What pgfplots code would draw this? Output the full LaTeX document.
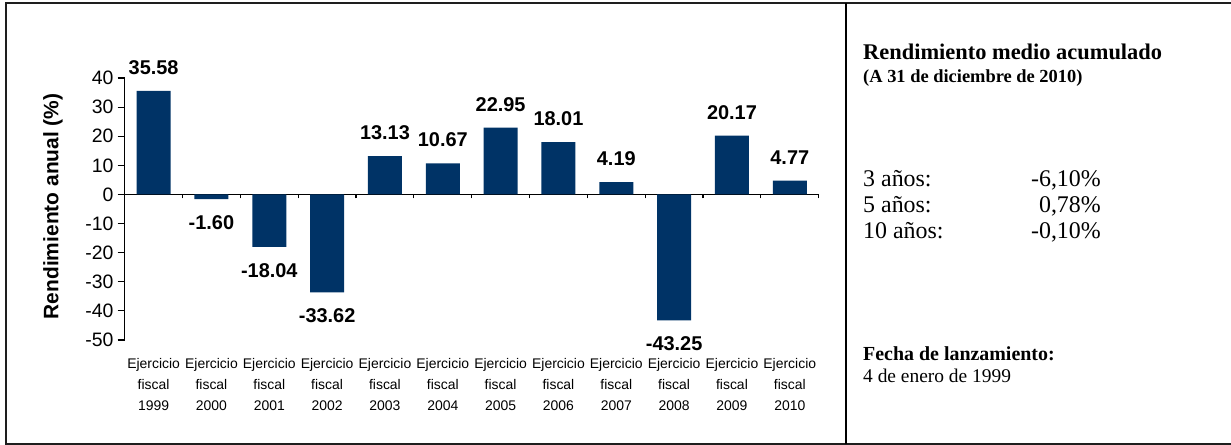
\documentclass[border=0pt]{standalone}
\usepackage{pgfplots}
\pgfplotsset{compat=1.18}
\usepackage{fontspec}
\setmainfont{Liberation Sans}
\newfontfamily\serif{Liberation Serif}
\definecolor{navy}{RGB}{0,51,102}
\definecolor{frame}{RGB}{30,30,30}

\pgfplotstableread{
x y
0 35.58
1 -1.60
2 -18.04
3 -33.62
4 13.13
5 10.67
6 22.95
7 18.01
8 4.19
9 -43.25
10 20.17
11 4.77
}\rend

\begin{document}
\begin{tikzpicture}[x=1bp,y=1bp]
\useasboundingbox (0,0) rectangle (1231,445);
\draw[line width=2bp, frame] (1231,442) -- (6,442) -- (6,1) -- (1231,1);
\draw[line width=2.2bp, black] (845.7,1) -- (845.7,442);

\begin{axis}[
  at={(124.7bp,105bp)}, anchor=south west,
  scale only axis, width=694bp, height=262bp,
  xmin=-0.5, xmax=11.5, ymin=-50, ymax=40,
  axis y line=left, axis x line=middle,
  axis line style={-, line width=1.3bp, black},
  ytick={-50,-40,...,40},
  ytick align=outside,
  major tick length=7bp,
  ytick style={line width=1.1bp, black},
  /pgf/number format/assume math mode=true,
  yticklabel style={font=\fontsize{19.5}{21}\selectfont, inner xsep=4bp},
  xtick={0,...,11},
  xtick style={draw=none},
  xticklabels={{Ejercicio\\fiscal\\1999},{Ejercicio\\fiscal\\2000},{Ejercicio\\fiscal\\2001},{Ejercicio\\fiscal\\2002},{Ejercicio\\fiscal\\2003},{Ejercicio\\fiscal\\2004},{Ejercicio\\fiscal\\2005},{Ejercicio\\fiscal\\2006},{Ejercicio\\fiscal\\2007},{Ejercicio\\fiscal\\2008},{Ejercicio\\fiscal\\2009},{Ejercicio\\fiscal\\2010}},
  xticklabel style={font=\fontsize{14}{21}\selectfont, align=center, anchor=north, yshift=-157bp},
  extra x ticks={-0.5,0.5,...,11.5},
  extra x tick labels={},
  extra x tick style={xtick style={draw=black, line width=1.1bp}, major tick length=4bp, xtick align=outside},
  ylabel={Rendimiento anual (\%)},
  ylabel style={font=\bfseries\fontsize{21}{23}\selectfont, at={(axis description cs:-0.1033,0.51)}, anchor=center},
  clip=false,
]
\addplot[ybar, bar width=34bp, fill=navy, draw=none,
  nodes near coords={\pgfmathprintnumber[fixed,fixed zerofill,precision=2,assume math mode=true]{\pgfplotspointmeta}},
  nodes near coords align=vertical,
  every node near coord/.append style={font=\bfseries\fontsize{20}{22}\selectfont, inner ysep=16bp, inner xsep=0bp, text=black},
] table[x=x,y=y] {\rend};
\end{axis}

\begin{scope}[every node/.style={inner sep=0pt}]
\node[anchor=base west, font=\serif\bfseries\fontsize{22.5}{24}\selectfont] at (863,385) {Rendimiento medio acumulado};
\node[anchor=base west, font=\serif\bfseries\fontsize{18.5}{20}\selectfont] at (863,362) {(A 31 de diciembre de 2010)};
\node[anchor=base west, font=\serif\fontsize{24}{26}\selectfont] at (863,258) {3 años:};
\node[anchor=base east, font=\serif\fontsize{24}{26}\selectfont] at (1101,258) {-6,10\%};
\node[anchor=base west, font=\serif\fontsize{24}{26}\selectfont] at (863,232) {5 años:};
\node[anchor=base east, font=\serif\fontsize{24}{26}\selectfont] at (1101,232) {0,78\%};
\node[anchor=base west, font=\serif\fontsize{24}{26}\selectfont] at (863,206) {10 años:};
\node[anchor=base east, font=\serif\fontsize{24}{26}\selectfont] at (1101,206) {-0,10\%};
\node[anchor=base west, font=\serif\bfseries\fontsize{20}{22}\selectfont] at (863,84) {Fecha de lanzamiento:};
\node[anchor=base west, font=\serif\fontsize{19.5}{21}\selectfont] at (863,62) {4 de enero de 1999};
\end{scope}
\end{tikzpicture}
\end{document}
